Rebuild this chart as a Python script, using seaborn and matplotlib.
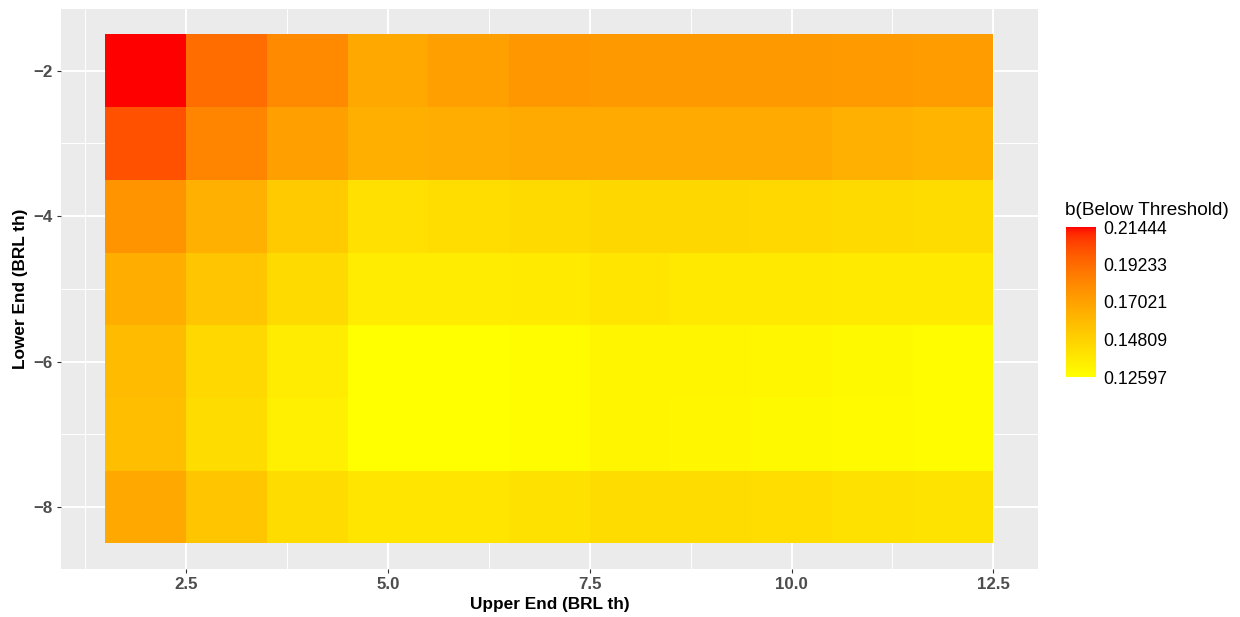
import numpy as np
import pandas as pd
import matplotlib
matplotlib.use("Agg")
import matplotlib.pyplot as plt
import seaborn as sns
from matplotlib.colors import LinearSegmentedColormap

# ---------------- data ----------------
upper_end = [2, 3, 4, 5, 6, 7, 8, 9, 10, 11, 12]
lower_end = [-2, -3, -4, -5, -6, -7, -8]

b_lower_m2 = [0.21444, 0.1923, 0.1804, 0.1671, 0.1715, 0.1745, 0.1738, 0.1738, 0.1738, 0.1732, 0.1724]
b_lower_m3 = [0.2012, 0.1826, 0.1715, 0.1640, 0.1653, 0.1662, 0.1662, 0.1662, 0.1662, 0.1636, 0.1614]
b_lower_m4 = [0.1760, 0.1636, 0.1516, 0.1414, 0.1423, 0.1441, 0.1454, 0.1454, 0.1447, 0.1441, 0.1432]
b_lower_m5 = [0.1645, 0.1543, 0.1441, 0.1353, 0.1353, 0.1361, 0.1388, 0.1370, 0.1370, 0.1361, 0.1361]
b_lower_m6 = [0.1587, 0.1450, 0.1353, 0.1261, 0.1263, 0.1275, 0.1311, 0.1311, 0.1302, 0.1293, 0.1275]
b_lower_m7 = [0.1565, 0.1432, 0.1339, 0.1262, 0.12597, 0.1275, 0.1311, 0.1302, 0.1293, 0.1284, 0.1275]
b_lower_m8 = [0.1671, 0.1534, 0.1432, 0.1388, 0.1388, 0.1406, 0.1432, 0.1432, 0.1423, 0.1406, 0.1397]

x_ticks = [2.5, 5.0, 7.5, 10.0, 12.5]
x_tick_labels = ["2.5", "5.0", "7.5", "10.0", "12.5"]
y_ticks = [-2, -4, -6, -8]
y_tick_labels = ["\u22122", "\u22124", "\u22126", "\u22128"]
legend_breaks = [0.12597, 0.14809, 0.17021, 0.19233, 0.21444]
legend_labels = ["0.12597", "0.14809", "0.17021", "0.19233", "0.21444"]

x_title = "Upper End (BRL th)"
y_title = "Lower End (BRL th)"
legend_title = "b(Below Threshold)"

rows = [b_lower_m2, b_lower_m3, b_lower_m4, b_lower_m5, b_lower_m6, b_lower_m7, b_lower_m8]
df = pd.DataFrame(rows, index=lower_end, columns=upper_end)

# ---------------- colormap: yellow -> red interpolated in Lab (like ggplot) ----------------
def lab_to_srgb(L, a, b):
    fy = (L + 16) / 116.0
    fx = fy + a / 500.0
    fz = fy - b / 200.0
    def finv(t):
        return t ** 3 if t ** 3 > 0.008856 else (t - 16 / 116.0) / 7.787
    X = 0.95047 * finv(fx)
    Y = finv(fy)
    Z = 1.08883 * finv(fz)
    M = np.array([[3.2406, -1.5372, -0.4986],
                  [-0.9689, 1.8758, 0.0415],
                  [0.0557, -0.2040, 1.0570]])
    lin = M @ np.array([X, Y, Z])
    lin = np.clip(lin, 0, 1)
    srgb = np.where(lin <= 0.0031308, 12.92 * lin, 1.055 * lin ** (1 / 2.4) - 0.055)
    return tuple(np.clip(srgb, 0, 1))

lab_yellow = np.array([97.139, -21.554, 94.478])
lab_red = np.array([53.241, 80.092, 67.203])
cols = [lab_to_srgb(*(lab_yellow + t * (lab_red - lab_yellow))) for t in np.linspace(0, 1, 64)]
cmap = LinearSegmentedColormap.from_list("ylrd_lab", cols, N=256)

# ---------------- figure ----------------
sns.set_theme(rc={"axes.facecolor": "#EBEBEB", "figure.facecolor": "white"})
plt.rcParams["font.family"] = ["Liberation Sans", "DejaVu Sans"]

fig = plt.figure(figsize=(12.4, 6.17), dpi=100)
ax = fig.add_axes([61 / 1240, 1 - 568.7 / 617, (1037.7 - 61) / 1240, (568.7 - 9) / 617])
cax = fig.add_axes([1066 / 1240, 1 - 377 / 617, 30 / 1240, 150 / 617])

vmin, vmax = legend_breaks[0], legend_breaks[-1]
sns.heatmap(df, ax=ax, cbar_ax=cax, cmap=cmap, vmin=vmin, vmax=vmax,
            xticklabels=False, yticklabels=False, linewidths=0)

x0 = min(upper_end)
y0 = max(lower_end)
def x_pos(v):
    return v - x0 + 0.5
def y_pos(v):
    return y0 - v + 0.5

# ggplot-like 5% expansion of the tile extent
x_lo, x_hi = min(upper_end) - 0.5, max(upper_end) + 0.5
y_lo, y_hi = min(lower_end) - 0.5, max(lower_end) + 0.5
ex = 0.05 * (x_hi - x_lo)
ey = 0.05 * (y_hi - y_lo)
ax.set_xlim(x_pos(x_lo - ex), x_pos(x_hi + ex))
ax.set_ylim(y_pos(y_lo - ey), y_pos(y_hi + ey))

ax.set_xticks([x_pos(v) for v in x_ticks])
ax.set_xticklabels(x_tick_labels)
ax.set_yticks([y_pos(v) for v in y_ticks])
ax.set_yticklabels(y_tick_labels)
x_minor = [x_ticks[0] - 1.25] + [(a + b) / 2 for a, b in zip(x_ticks[:-1], x_ticks[1:])]
y_minor = [(a + b) / 2 for a, b in zip(y_ticks[:-1], y_ticks[1:])]
ax.set_xticks([x_pos(v) for v in x_minor], minor=True)
ax.set_yticks([y_pos(v) for v in y_minor], minor=True)

ax.set_axisbelow(True)
ax.grid(True, which="major", color="white", linewidth=1.4)
ax.grid(True, which="minor", color="white", linewidth=0.7)
for s in ax.spines.values():
    s.set_visible(False)

ax.tick_params(which="major", length=2.6, width=0.8, color="#333333",
               labelsize=12.2, labelcolor="#4D4D4D", pad=3.3,
               bottom=True, left=True, top=False, right=False)
ax.tick_params(which="minor", length=0)
for lab in ax.get_xticklabels() + ax.get_yticklabels():
    lab.set_fontweight("bold")

ax.set_xlabel(x_title, fontsize=12.4, fontweight="bold", color="black", labelpad=4)
ax.set_ylabel(y_title, fontsize=12.4, fontweight="bold", color="black", labelpad=4)

cb = ax.collections[0].colorbar
cb.set_ticks(legend_breaks)
cb.set_ticklabels(legend_labels)
cb.outline.set_visible(False)
cax.yaxis.set_ticks_position("both")
cax.tick_params(which="major", direction="in", length=4.3, width=0.8, color="white",
                labelsize=12.7, labelcolor="black", pad=5,
                left=True, right=True, labelleft=False, labelright=True)
cax.tick_params(which="minor", length=0)
for t in cax.yaxis.get_major_ticks():
    t.tick1line.set_zorder(5)
    t.tick2line.set_zorder(5)
fig.text(1065 / 1240, 1 - 215 / 617, legend_title, fontsize=13.7,
         ha="left", va="baseline", color="black")

fig.savefig("out.png", dpi=100)
